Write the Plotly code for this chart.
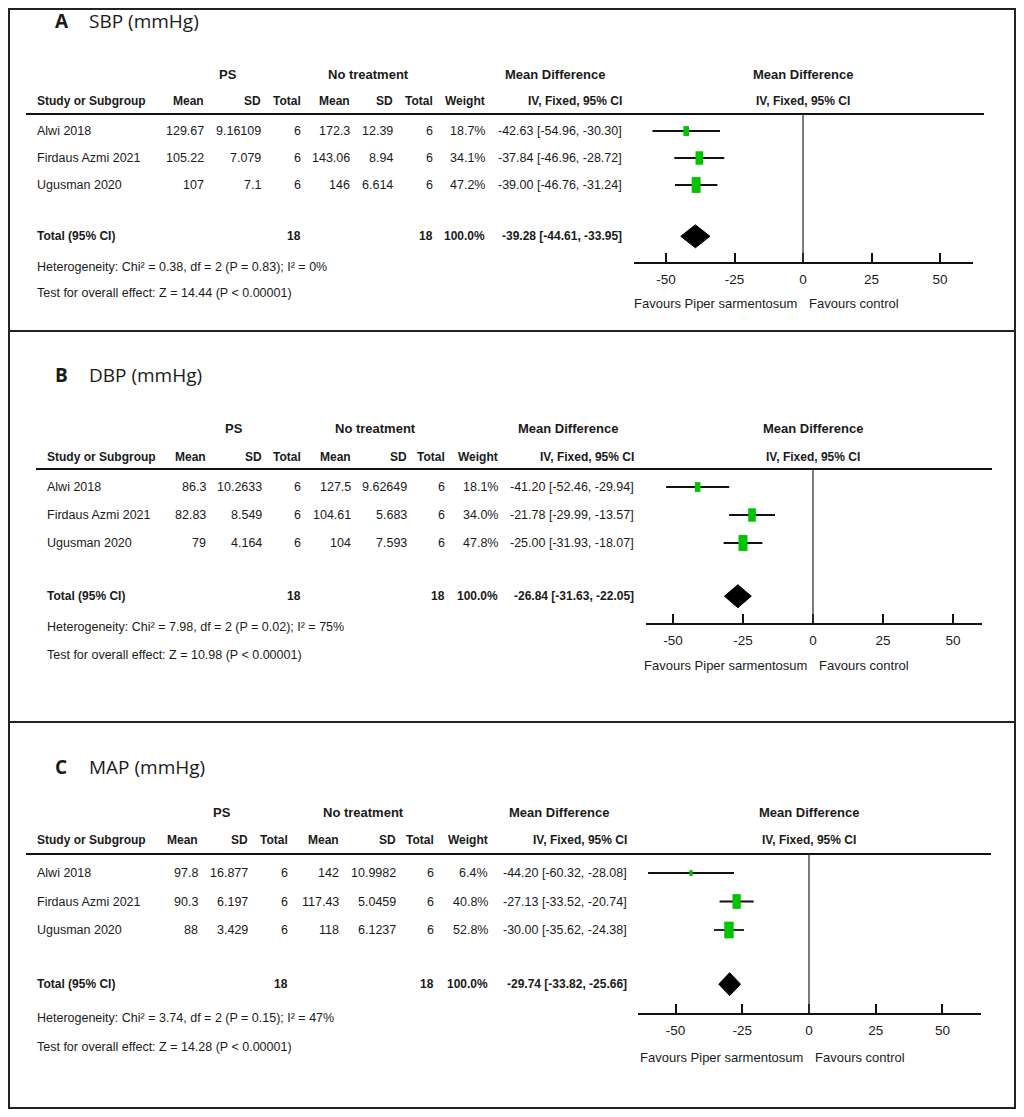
import plotly.graph_objects as go
import math

# page body has an 8px margin; figure sized so the page fills the window exactly
OFF = 8
W, H = 1024 - 2 * OFF, 1117 - 2 * OFF

# ---------------- data ----------------
studies = ["Alwi 2018", "Firdaus Azmi 2021", "Ugusman 2020"]

# Panel A: SBP
sbp_ps_mean = [129.67, 105.22, 107]
sbp_ps_sd = [9.16109, 7.079, 7.1]
sbp_ps_n = [6, 6, 6]
sbp_ct_mean = [172.3, 143.06, 146]
sbp_ct_sd = [12.39, 8.94, 6.614]
sbp_ct_n = [6, 6, 6]
sbp_weight = [18.7, 34.1, 47.2]
sbp_md = [-42.63, -37.84, -39.00]
sbp_lo = [-54.96, -46.96, -46.76]
sbp_hi = [-30.30, -28.72, -31.24]
sbp_total = [-39.28, -44.61, -33.95]
sbp_total_weight = 100.0
sbp_het = ["0.38", "2", "0.83", "0%"]
sbp_z = "14.44"

# Panel B: DBP
dbp_ps_mean = [86.3, 82.83, 79]
dbp_ps_sd = [10.2633, 8.549, 4.164]
dbp_ps_n = [6, 6, 6]
dbp_ct_mean = [127.5, 104.61, 104]
dbp_ct_sd = [9.62649, 5.683, 7.593]
dbp_ct_n = [6, 6, 6]
dbp_weight = [18.1, 34.0, 47.8]
dbp_md = [-41.20, -21.78, -25.00]
dbp_lo = [-52.46, -29.99, -31.93]
dbp_hi = [-29.94, -13.57, -18.07]
dbp_total = [-26.84, -31.63, -22.05]
dbp_total_weight = 100.0
dbp_het = ["7.98", "2", "0.02", "75%"]
dbp_z = "10.98"

# Panel C: MAP
map_ps_mean = [97.8, 90.3, 88]
map_ps_sd = [16.877, 6.197, 3.429]
map_ps_n = [6, 6, 6]
map_ct_mean = [142, 117.43, 118]
map_ct_sd = [10.9982, 5.0459, 6.1237]
map_ct_n = [6, 6, 6]
map_weight = [6.4, 40.8, 52.8]
map_md = [-44.20, -27.13, -30.00]
map_lo = [-60.32, -33.52, -35.62]
map_hi = [-28.08, -20.74, -24.38]
map_total = [-29.74, -33.82, -25.66]
map_total_weight = 100.0
map_het = ["3.74", "2", "0.15", "47%"]
map_z = "14.28"

tick_vals = [-50, -25, 0, 25, 50]
tick_text = ["-50", "-25", "0", "25", "50"]

panels = [
    dict(letter="A", title="SBP (mmHg)",
         ps_mean=sbp_ps_mean, ps_sd=sbp_ps_sd, ps_n=sbp_ps_n,
         ct_mean=sbp_ct_mean, ct_sd=sbp_ct_sd, ct_n=sbp_ct_n,
         weight=sbp_weight, md=sbp_md, lo=sbp_lo, hi=sbp_hi,
         total=sbp_total, tw=sbp_total_weight, het=sbp_het, z=sbp_z,
         # layout (screen pixels)
         title_y=21, grp_y=74, hdr_y=101, line_y=114, line_x=(26, 984),
         rows0=131, drow=27, het_y=267, test_y=293,
         study_x=36, cols=[205, 262, 302, 351, 394, 434, 486, 623],
         ps_c=228, nt_c=368, mdh_c=555,
         ax=(634, 973), zero_px=803, px25=68.5, axis_y=262, fh_c=803, fav_y=304),
    dict(letter="B", title="DBP (mmHg)",
         ps_mean=dbp_ps_mean, ps_sd=dbp_ps_sd, ps_n=dbp_ps_n,
         ct_mean=dbp_ct_mean, ct_sd=dbp_ct_sd, ct_n=dbp_ct_n,
         weight=dbp_weight, md=dbp_md, lo=dbp_lo, hi=dbp_hi,
         total=dbp_total, tw=dbp_total_weight, het=dbp_het, z=dbp_z,
         title_y=375, grp_y=428, hdr_y=457, line_y=469, line_x=(36, 992),
         rows0=487, drow=28, het_y=627, test_y=655,
         study_x=46, cols=[207, 263, 302, 352, 408, 446, 499, 635],
         ps_c=234, nt_c=375, mdh_c=568,
         ax=(646, 982), zero_px=813, px25=70, axis_y=623, fh_c=813, fav_y=665),
    dict(letter="C", title="MAP (mmHg)",
         ps_mean=map_ps_mean, ps_sd=map_ps_sd, ps_n=map_ps_n,
         ct_mean=map_ct_mean, ct_sd=map_ct_sd, ct_n=map_ct_n,
         weight=map_weight, md=map_md, lo=map_lo, hi=map_hi,
         total=map_total, tw=map_total_weight, het=map_het, z=map_z,
         title_y=767, grp_y=812, hdr_y=840, line_y=854, line_x=(26, 991),
         rows0=873, drow=28.5, het_y=1018, test_y=1047,
         study_x=36, cols=[199, 249, 289, 340, 397, 435, 489, 628],
         ps_c=222, nt_c=363, mdh_c=559,
         ax=(638, 981), zero_px=809, px25=66.7, axis_y=1013, fh_c=809, fav_y=1057),
]

TOTAL_ROW = 3.9
NARROW = "Liberation Sans, Arial, sans-serif"
TITLE_FONT = "Open Sans, Lato, sans-serif"
GREEN = "#00c400"
TXT = "#1a1a1a"
FS = 12.5

fig = go.Figure()
annotations = []
shapes = []


def px(x):
    return (x - OFF) / W


def py(y):
    return 1 - (y - OFF) / H


def txt(x, y, s, anchor="left", size=FS, bold=False, family=NARROW):
    annotations.append(dict(
        x=px(x), y=py(y), xref="paper", yref="paper",
        text=("<b>%s</b>" % s) if bold else s, showarrow=False,
        xanchor=anchor, yanchor="middle", borderpad=0,
        font=dict(family=family, size=size, color=TXT)))


def fmt(v):
    return str(v)


for i, p in enumerate(panels):
    k = "" if i == 0 else str(i + 1)
    xa, ya = "x" + k, "y" + k

    # ----- title -----
    txt(54, p["title_y"], p["letter"], bold=True, size=19, family=TITLE_FONT)
    txt(88, p["title_y"], p["title"], size=19, family=TITLE_FONT)

    # ----- group headers -----
    txt(p["ps_c"], p["grp_y"], "PS", anchor="center", bold=True, size=13)
    txt(p["nt_c"], p["grp_y"], "No treatment", anchor="center", bold=True, size=13)
    txt(p["mdh_c"], p["grp_y"], "Mean Difference", anchor="center", bold=True, size=13)
    txt(p["fh_c"], p["grp_y"], "Mean Difference", anchor="center", bold=True, size=13)
    txt(p["fh_c"], p["hdr_y"], "IV, Fixed, 95% CI", anchor="center", bold=True, size=12)

    c = p["cols"]
    txt(p["study_x"], p["hdr_y"], "Study or Subgroup", bold=True, size=12)
    for xr, lab in zip(c, ["Mean", "SD", "Total", "Mean", "SD", "Total", "Weight",
                            "IV, Fixed, 95% CI"]):
        txt(xr, p["hdr_y"], lab, anchor="right", bold=True, size=12)

    # header rule
    shapes.append(dict(type="line", xref="paper", yref="paper",
                       x0=px(p["line_x"][0]), x1=px(p["line_x"][1]),
                       y0=py(p["line_y"]), y1=py(p["line_y"]),
                       line=dict(color="#111", width=2)))

    # ----- study rows -----
    for j, s in enumerate(studies):
        yy = p["rows0"] + j * p["drow"]
        txt(p["study_x"], yy, s)
        vals = [fmt(p["ps_mean"][j]), fmt(p["ps_sd"][j]), fmt(p["ps_n"][j]),
                fmt(p["ct_mean"][j]), fmt(p["ct_sd"][j]), fmt(p["ct_n"][j]),
                "%.1f%%" % p["weight"][j],
                "%.2f [%.2f, %.2f]" % (p["md"][j], p["lo"][j], p["hi"][j])]
        for xr, v in zip(c, vals):
            txt(xr, yy, v, anchor="right")

    # ----- total row -----
    ty = p["rows0"] + TOTAL_ROW * p["drow"]
    txt(p["study_x"], ty, "Total (95% CI)", bold=True, size=12)
    txt(c[2], ty, str(sum(p["ps_n"])), anchor="right", bold=True, size=12)
    txt(c[5], ty, str(sum(p["ct_n"])), anchor="right", bold=True, size=12)
    txt(c[6], ty, "%.1f%%" % p["tw"], anchor="right", bold=True, size=12)
    t = p["total"]
    txt(c[7], ty, "%.2f [%.2f, %.2f]" % (t[0], t[1], t[2]), anchor="right", bold=True, size=12)

    h = p["het"]
    txt(p["study_x"], p["het_y"],
        "Heterogeneity: Chi² = %s, df = %s (P = %s); I² = %s" % (h[0], h[1], h[2], h[3]))
    txt(p["study_x"], p["test_y"],
        "Test for overall effect: Z = %s (P &lt; 0.00001)" % p["z"])

    # ----- forest axes -----
    unit = p["px25"] / 25.0
    xr0 = (p["ax"][0] - p["zero_px"]) / unit
    xr1 = (p["ax"][1] - p["zero_px"]) / unit
    ytop = (p["line_y"] - p["rows0"]) / p["drow"]
    ybot = (p["axis_y"] - p["rows0"]) / p["drow"]

    fig.update_layout(**{
        ("xaxis" + k): dict(domain=[px(p["ax"][0]), px(p["ax"][1])], range=[xr0, xr1],
                            anchor=ya, tickvals=tick_vals, ticktext=tick_text,
                            showline=True, linecolor="#111", linewidth=2,
                            ticks="inside", ticklen=9, tickwidth=2, tickcolor="#111",
                            ticklabelstandoff=4,
                            showgrid=False, zeroline=False, fixedrange=True,
                            tickfont=dict(family=NARROW, size=13.5, color=TXT)),
        ("yaxis" + k): dict(domain=[py(p["axis_y"]), py(p["line_y"])],
                            range=[ybot, ytop], anchor=xa, visible=False,
                            showgrid=False, zeroline=False, fixedrange=True),
    })

    # zero line
    shapes.append(dict(type="line", xref=xa, yref=ya + " domain", x0=0, x1=0, y0=0, y1=1,
                       line=dict(color="#333", width=1.3)))

    # CI lines
    for j in range(len(studies)):
        fig.add_trace(go.Scatter(x=[p["lo"][j], p["hi"][j]], y=[j, j], mode="lines",
                                 line=dict(color="#111", width=1.8), xaxis=xa, yaxis=ya,
                                 showlegend=False, hoverinfo="skip"))
    # weight boxes
    for j in range(len(studies)):
        wpx = 1.3 * math.sqrt(p["weight"][j])
        hpx = 2.3 * math.sqrt(p["weight"][j])
        hw = wpx / 2 / unit
        hh = hpx / 2 / p["drow"]
        shapes.append(dict(type="rect", xref=xa, yref=ya,
                           x0=p["md"][j] - hw, x1=p["md"][j] + hw, y0=j - hh, y1=j + hh,
                           fillcolor=GREEN, line=dict(width=0)))
    # diamond
    dh = 11.5 / p["drow"]
    fig.add_trace(go.Scatter(x=[t[1], t[0], t[2], t[0], t[1]],
                             y=[TOTAL_ROW, TOTAL_ROW - dh, TOTAL_ROW, TOTAL_ROW + dh, TOTAL_ROW],
                             mode="lines", fill="toself", fillcolor="#000",
                             line=dict(color="#000", width=1), xaxis=xa, yaxis=ya,
                             showlegend=False, hoverinfo="skip"))

    # favours labels
    txt(p["zero_px"] - 5, p["fav_y"], "Favours Piper sarmentosum", anchor="right", size=13)
    txt(p["zero_px"] + 5, p["fav_y"], "Favours control", anchor="left", size=13)

# panel separators and outer border
for ysep in [331, 722]:
    shapes.append(dict(type="line", xref="paper", yref="paper", x0=px(9), x1=px(1015),
                       y0=py(ysep), y1=py(ysep), line=dict(color="#222", width=2)))
shapes.append(dict(type="rect", xref="paper", yref="paper", x0=px(9), x1=px(1015),
                   y0=py(1108), y1=py(9), line=dict(color="#222", width=2)))

fig.update_layout(width=W, height=H, margin=dict(l=0, r=0, t=0, b=0),
                  paper_bgcolor="white", plot_bgcolor="white",
                  annotations=annotations, shapes=shapes, showlegend=False)

fig.write_html("out.html")
